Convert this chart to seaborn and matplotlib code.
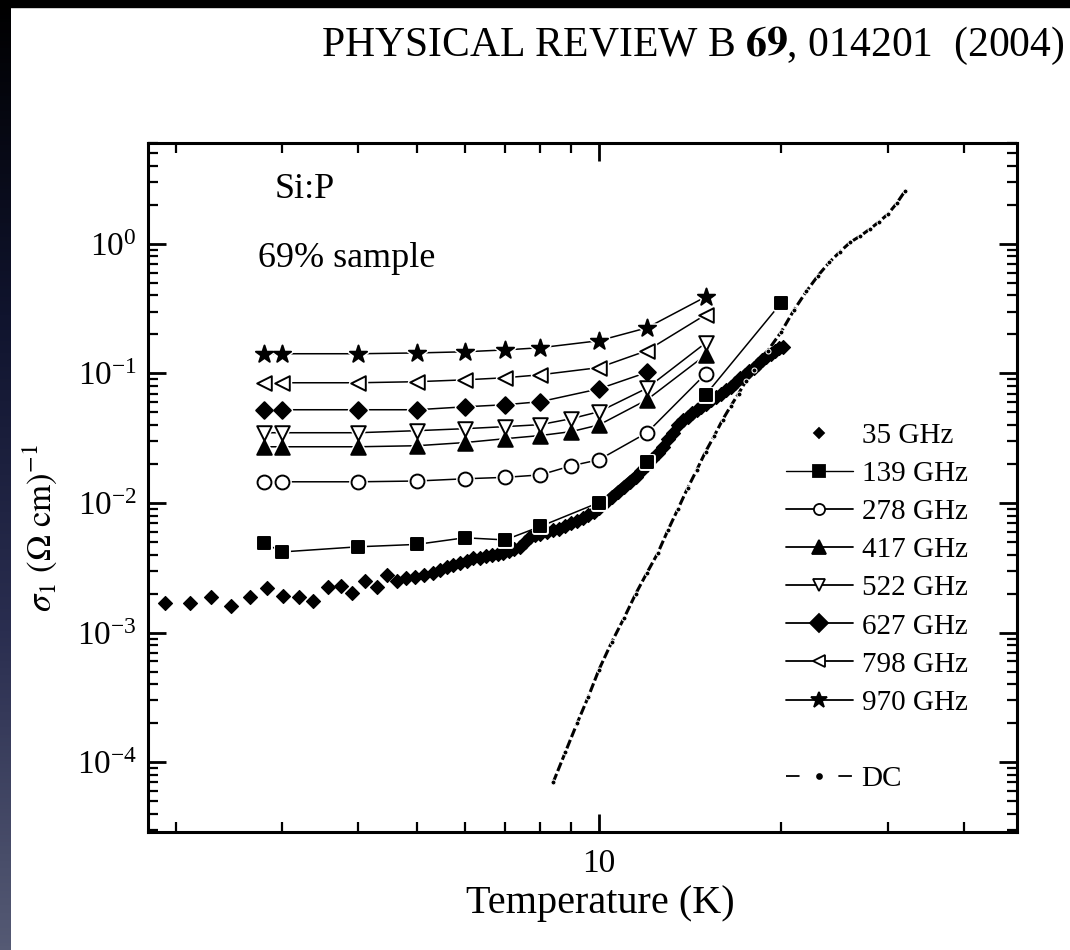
import numpy as np
import pandas as pd
import matplotlib
matplotlib.use("Agg")
import matplotlib.pyplot as plt
import seaborn as sns
from matplotlib.lines import Line2D
from matplotlib.patches import Rectangle
from matplotlib.colors import LinearSegmentedColormap
from matplotlib.ticker import FixedLocator, NullFormatter, LogLocator, FixedFormatter

# ---------------- data ----------------
T_35 = [1.92, 2.11, 2.29, 2.47, 2.65, 2.83, 3.01, 3.20, 3.37, 3.57, 3.75, 3.91, 4.11, 4.30,
        4.47, 4.64, 4.80, 4.97, 5.14, 5.32, 5.46, 5.6, 5.75, 5.9, 6.05, 6.2, 6.35, 6.5, 6.65,
        6.8, 6.95, 7.1, 7.25, 7.4, 7.55, 7.7, 7.85, 8.0, 8.2, 8.4, 8.6, 8.8, 9.0, 9.2, 9.4,
        9.6, 9.8, 10.0, 10.25, 10.5, 10.75, 11.0, 11.25, 11.5, 11.75, 12.0, 12.25, 12.5,
        12.75, 13.0, 13.25, 13.5, 13.75, 14.0, 14.25, 14.5, 14.75, 15.0, 15.3, 15.6, 15.9,
        16.2, 16.5, 16.8, 17.1, 17.4, 17.7, 18.0, 18.3, 18.6, 18.9, 19.2, 19.5, 19.8, 20.1]
S_35 = [1.71e-3, 1.71e-3, 1.90e-3, 1.62e-3, 1.90e-3, 2.23e-3, 1.93e-3, 1.90e-3, 1.77e-3,
        2.27e-3, 2.31e-3, 2.04e-3, 2.52e-3, 2.27e-3, 2.81e-3, 2.52e-3, 2.66e-3, 2.71e-3,
        2.81e-3, 2.91e-3, 3.07e-3, 3.2e-3, 3.35e-3, 3.45e-3, 3.6e-3, 3.75e-3, 3.8e-3, 3.9e-3,
        4.0e-3, 4.05e-3, 4.15e-3, 4.25e-3, 4.4e-3, 4.6e-3, 5.0e-3, 5.5e-3, 5.65e-3, 5.8e-3,
        6.0e-3, 6.15e-3, 6.35e-3, 6.6e-3, 7.0e-3, 7.3e-3, 7.7e-3, 8.1e-3, 8.6e-3, 9.2e-3,
        1.02e-2, 1.11e-2, 1.21e-2, 1.33e-2, 1.45e-2, 1.60e-2, 1.78e-2, 1.98e-2, 2.2e-2,
        2.45e-2, 2.7e-2, 3.1e-2, 3.5e-2, 4.0e-2, 4.35e-2, 4.65e-2, 4.95e-2, 5.2e-2, 5.5e-2,
        5.8e-2, 6.2e-2, 6.6e-2, 7.0e-2, 7.4e-2, 7.9e-2, 8.5e-2, 9.2e-2, 9.8e-2, 0.104,
        0.110, 0.118, 0.126, 0.134, 0.142, 0.150, 0.156, 0.161]

T_139 = [2.8, 3, 4, 5, 6, 7, 8, 10, 12, 15, 20]
S_139 = [0.0049, 0.0042, 0.0046, 0.0048, 0.0054, 0.0052, 0.0066, 0.0101, 0.0209, 0.0685, 0.351]

T_278 = [2.8, 3, 4, 5, 6, 7, 8, 9, 10, 12, 15]
S_278 = [0.0146, 0.0146, 0.0146, 0.0148, 0.0154, 0.0158, 0.0165, 0.0194, 0.0216, 0.0349, 0.0994]

T_417 = [2.8, 3, 4, 5, 6, 7, 8, 9, 10, 12, 15]
S_417 = [0.0272, 0.0272, 0.0272, 0.0277, 0.0293, 0.0314, 0.0332, 0.0356, 0.0401, 0.0627, 0.139]

T_522 = [2.8, 3, 4, 5, 6, 7, 8, 9, 10, 12, 15]
S_522 = [0.0349, 0.0349, 0.0349, 0.0362, 0.0375, 0.0389, 0.0403, 0.0448, 0.0507, 0.077, 0.172]

T_627 = [2.8, 3, 4, 5, 6, 7, 8, 10, 12]
S_627 = [0.0525, 0.0525, 0.0525, 0.0525, 0.0553, 0.0574, 0.0606, 0.0761, 0.102]

T_798 = [2.8, 3, 4, 5, 6, 7, 8, 10, 12, 15]
S_798 = [0.0848, 0.0848, 0.0848, 0.0864, 0.0893, 0.0927, 0.0977, 0.111, 0.150, 0.284]

T_970 = [2.8, 3, 4, 5, 6, 7, 8, 10, 12, 15]
S_970 = [0.142, 0.142, 0.142, 0.144, 0.147, 0.152, 0.158, 0.179, 0.225, 0.39]

T_DC = [8.4, 8.8, 9.2, 9.6, 10.0, 10.5, 11.0, 11.5, 12.0, 12.5, 13.0, 13.5, 14.0, 14.5,
        15.0, 15.5, 16.0, 16.5, 17.0, 17.5, 18.0, 19.0, 20.0, 21.0, 22.0, 23.0, 24.0, 25.0,
        26.0, 27.0, 28.0, 29.0, 30.0, 31.0, 32.0]
S_DC = [7.0e-5, 1.2e-4, 2.0e-4, 3.2e-4, 5.2e-4, 8.5e-4, 1.3e-3, 2.0e-3, 2.9e-3, 4.1e-3,
        6.2e-3, 9.0e-3, 1.3e-2, 1.8e-2, 2.5e-2, 3.3e-2, 4.4e-2, 5.6e-2, 7.0e-2, 8.8e-2,
        0.107, 0.15, 0.21, 0.31, 0.43, 0.57, 0.72, 0.87, 1.03, 1.15, 1.30, 1.48, 1.70,
        2.05, 2.55]

series_labels = ["35 GHz", "139 GHz", "278 GHz", "417 GHz", "522 GHz", "627 GHz",
                 "798 GHz", "970 GHz", "DC"]
x_label = "Temperature (K)"
y_label = r"$\sigma_1\ (\Omega\ \mathrm{cm})^{-1}$"
header = r"PHYSICAL REVIEW B $\mathbf{69}$, 014201  (2004)"
note1 = "Si:P"
note2 = "69% sample"

# ---------------- style ----------------
sns.set_theme(style="ticks")
plt.rcParams["font.family"] = ["Liberation Serif", "DejaVu Serif"]
plt.rcParams["mathtext.fontset"] = "stix"
plt.rcParams["axes.linewidth"] = 2.2
plt.rcParams["axes.edgecolor"] = "black"
plt.rcParams["text.color"] = "black"
plt.rcParams["axes.labelcolor"] = "black"
plt.rcParams["xtick.color"] = "black"
plt.rcParams["ytick.color"] = "black"

fig = plt.figure(figsize=(10.7, 9.5), dpi=100)
fig.patch.set_facecolor("white")

# decorative screenshot border (dark gradient strip at left, black band at top)
gax = fig.add_axes([0, 0, 11 / 1070, 1])
grad = np.linspace(0, 1, 256).reshape(-1, 1)
cmap = LinearSegmentedColormap.from_list("edge", ["#000000", "#10142e", "#2a2e50", "#555a74"])
gax.imshow(grad, aspect="auto", cmap=cmap, extent=[0, 1, 0, 1], origin="upper")
gax.set_axis_off()
fig.patches.append(Rectangle((0, 1 - 7 / 950), 1, 7 / 950, transform=fig.transFigure,
                             color="black", zorder=10))

ax = fig.add_axes([148 / 1070, 1 - 832 / 950, (1017 - 148) / 1070, (832 - 143) / 950])
ax.set_xscale("log")
ax.set_yscale("log")
ax.set_facecolor("white")

# 35 GHz
sns.scatterplot(x=T_35, y=S_35, marker="D", s=50, color="black", edgecolor="black",
                linewidth=0.9, ax=ax, zorder=2, legend=False)
# DC
sns.lineplot(x=T_DC, y=S_DC, color="black", lw=2.2, ax=ax, zorder=2.5, sort=False,
             estimator=None, marker="o", markersize=3.6, dashes=(3, 1), legend=False)

specs = [
    (T_139, S_139, "s", 9, True),
    (T_278, S_278, "o", 10, False),
    (T_417, S_417, "^", 10.5, True),
    (T_522, S_522, "v", 10.5, False),
    (T_627, S_627, "D", 8.5, True),
    (T_798, S_798, "<", 10.5, False),
    (T_970, S_970, "*", 13, True),
]
for T, S, mk, ms, filled in specs:
    sns.lineplot(x=T, y=S, color="black", lw=1.1, ax=ax, zorder=3, sort=False,
                 estimator=None, legend=False)
    sns.scatterplot(x=T, y=S, marker=mk, s=ms ** 2, color="white", edgecolor="white",
                    linewidth=3.5, ax=ax, zorder=4, legend=False)
    sns.scatterplot(x=T, y=S, marker=mk, s=ms ** 2, color="black" if filled else "white",
                    edgecolor="black", linewidth=1.4, ax=ax, zorder=5, legend=False)

ax.set_xlim(1.8, 49)
ax.set_ylim(2.9e-5, 6.0)

ax.xaxis.set_major_locator(FixedLocator([10]))
ax.xaxis.set_major_formatter(FixedFormatter(["10"]))
ax.xaxis.set_minor_locator(FixedLocator([2, 3, 4, 5, 6, 7, 8, 9, 20, 30, 40]))
ax.xaxis.set_minor_formatter(NullFormatter())
ax.yaxis.set_major_locator(LogLocator(base=10, numticks=20))
ax.yaxis.set_minor_locator(LogLocator(base=10, subs=np.arange(2, 10), numticks=100))
ax.yaxis.set_minor_formatter(NullFormatter())
ax.tick_params(which="both", direction="in", top=True, right=True, colors="black",
               labelsize=24)
ax.tick_params(which="major", length=13, width=2.0)
ax.tick_params(which="minor", length=7, width=1.6)
ax.tick_params(axis="x", which="major", pad=12)
ax.tick_params(axis="y", which="major", pad=8)
ax.set_xlabel("")
ax.set_ylabel("")
for sp in ax.spines.values():
    sp.set_visible(True)
    sp.set_linewidth(2.2)

# texts
ax.text(0.146, 0.932, note1, transform=ax.transAxes, fontsize=26, va="center", ha="left")
ax.text(0.127, 0.833, note2, transform=ax.transAxes, fontsize=26, va="center", ha="left")
fig.text(600 / 1070, 1 - 903 / 950, x_label, fontsize=29, ha="center", va="center")
fig.text(40 / 1070, 1 - 528 / 950, y_label, fontsize=25, ha="center", va="center",
         rotation=90)
fig.text(1065 / 1070, 1 - 46 / 950, header, fontsize=30, ha="right", va="center")

# legend
def h(mk=None, ms=8, fill="black", ls="-", lw=1.3, dashes=None):
    ln = Line2D([], [], color="black", marker=mk, markersize=ms, markerfacecolor=fill,
                markeredgecolor="black", markeredgewidth=1.3, linestyle=ls, lw=lw)
    if dashes is not None:
        ln.set_dashes(dashes)
    return ln

handles = [
    h("D", 5, ls="none"),
    h("s", 9, lw=1.0),
    h("o", 8, "white"),
    h("^", 10),
    h("v", 9, "white"),
    h("D", 9),
    h("<", 9, "white"),
    h("*", 12),
    Line2D([], [], linestyle="none"),
    h("o", 3.5, ls="--", dashes=(7.5, 21.5)),
]
labels = series_labels[:8] + [" "] + [series_labels[8]]
leg = ax.legend(handles, labels, loc="upper left", bbox_to_anchor=(0.734, 0.594),
                frameon=False, fontsize=21, handlelength=2.3, handletextpad=0.3,
                labelspacing=0.40, borderpad=0, borderaxespad=0, numpoints=1)

fig.savefig("out.png", dpi=100, facecolor="white")
